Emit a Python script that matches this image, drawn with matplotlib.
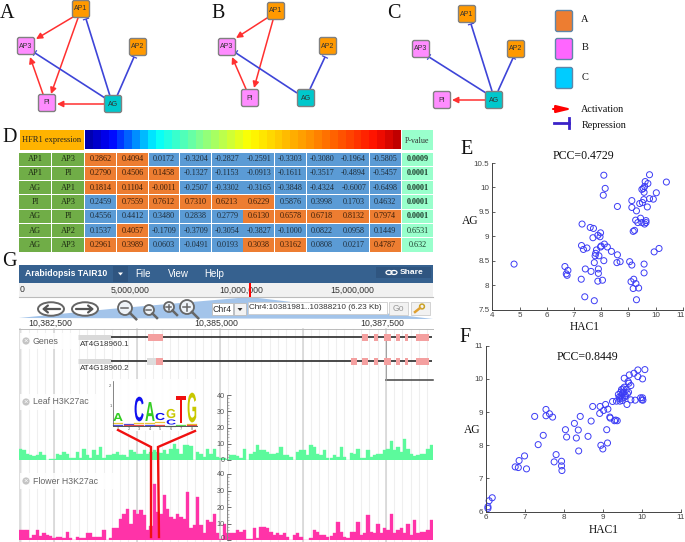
import matplotlib
matplotlib.use("Agg")
import numpy as np
import matplotlib.pyplot as plt
from matplotlib.patches import FancyBboxPatch, Rectangle, Ellipse, Circle, Polygon
from matplotlib.colors import LinearSegmentedColormap
from matplotlib.patheffects import AbstractPathEffect
from matplotlib.transforms import Affine2D, ScaledTranslation

# ---------- data ----------
row_a = ["AP1", "AP1", "AG", "PI", "AG", "AG", "AG"]
row_b = ["AP3", "PI", "AP1", "AP3", "PI", "AP2", "AP3"]
corr_text = [
    ["0.2862", "0.4094", "0.0172", "-0.3204", "-0.2827", "-0.2591", "-0.3303", "-0.3080", "-0.1964", "-0.5805"],
    ["0.2790", "0.4506", "0.1458", "-0.1327", "-0.1153", "-0.0913", "-0.1611", "-0.3517", "-0.4894", "-0.5457"],
    ["0.1814", "0.1104", "-0.0011", "-0.2507", "-0.3302", "-0.3165", "-0.3848", "-0.4324", "-0.6007", "-0.6498"],
    ["0.2459", "0.7559", "0.7612", "0.7310", "0.6213", "0.6229", "0.5876", "0.3998", "0.1703", "0.4632"],
    ["0.4556", "0.4412", "0.3480", "0.2838", "0.2779", "0.6130", "0.6578", "0.6718", "0.8132", "0.7974"],
    ["0.1537", "0.4057", "-0.1709", "-0.3709", "-0.3054", "-0.3827", "-0.1000", "0.0822", "0.0958", "0.1449"],
    ["0.2961", "0.3989", "0.0603", "-0.0491", "0.0193", "0.3038", "0.3162", "0.0808", "0.0217", "0.4787"],
]
corr_high = [
    [1, 1, 0, 0, 0, 0, 0, 0, 0, 0],
    [1, 1, 1, 0, 0, 0, 0, 0, 0, 0],
    [1, 1, 1, 0, 0, 0, 0, 0, 0, 0],
    [0, 1, 1, 1, 1, 1, 0, 0, 0, 0],
    [0, 0, 0, 0, 0, 1, 1, 1, 1, 1],
    [0, 1, 0, 0, 0, 0, 0, 0, 0, 0],
    [1, 1, 0, 0, 0, 1, 1, 0, 0, 1],
]
p_values = ["0.0009", "0.0001", "0.0001", "0.0001", "0.0001", "0.6531", "0.632"]

e_x = [4.8, 6.67, 6.72, 6.78, 6.75, 7.27, 7.42, 7.4, 7.63, 7.75, 7.9, 7.9, 7.88, 8.05, 7.3, 7.6, 7.72, 7.7, 7.88, 7.98, 7.96,
       7.28, 7.35, 7.48, 7.75, 7.78, 7.8, 7.83, 7.92, 7.98, 8.0, 8.12, 8.23, 8.38, 8.1, 8.58, 8.6, 8.7, 9.05, 9.13, 9.58,
       9.58, 9.95, 10.13, 9.1, 9.18, 9.2, 9.28, 9.38, 9.3, 8.1, 8.15, 8.08, 8.6, 9.13, 9.13, 9.3, 9.18, 9.23, 9.27, 9.35,
       9.45, 9.5, 9.6, 9.65, 9.65, 9.42, 9.52, 9.57, 9.7, 9.78, 9.92, 10.03, 9.5, 9.55, 9.58, 9.6, 9.62, 9.72, 9.78, 10.4]
e_y = [8.43, 8.38, 8.23, 8.3, 8.2, 8.12, 8.33, 7.76, 8.28, 7.68, 8.33, 8.24, 8.08, 8.1, 9.25, 9.18, 9.16, 8.97, 9.02, 9.07, 8.99,
       8.81, 8.73, 8.76, 8.46, 8.6, 8.65, 8.72, 8.6, 8.78, 8.8, 8.84, 8.78, 8.69, 8.5, 8.46, 8.62, 8.48, 8.48, 8.41, 8.43,
       8.25, 8.68, 8.75, 8.07, 7.93, 8.12, 8.03, 7.94, 7.7, 10.25, 9.98, 9.84, 9.61, 9.73, 9.59, 9.52, 9.1, 9.12, 9.33, 9.28,
       9.37, 9.28, 9.25, 9.32, 9.28, 9.67, 9.69, 9.75, 9.6, 9.77, 9.76, 9.89, 9.96, 9.98, 9.9, 10.02, 10.12, 10.08, 10.26, 10.11]

f_x = [6.05, 6.05, 6.08, 6.16, 6.75, 6.83, 6.85, 6.99, 7.04, 7.25, 7.34, 7.47, 7.54, 7.54, 7.63, 7.71, 7.75, 7.8, 7.94, 7.94, 7.95,
       8.04, 8.07, 8.27, 8.32, 8.37, 8.38, 8.42, 8.62, 8.7, 8.74, 8.92, 8.93, 8.95, 9.0, 9.02, 9.07, 9.1, 9.12, 9.13, 9.18, 9.19,
       9.25, 9.3, 9.33, 9.35, 9.37, 9.4, 9.43, 9.44, 9.46, 9.47, 9.48, 9.5, 9.5, 9.52, 9.54, 9.55, 9.55, 9.56, 9.58, 9.6, 9.62,
       9.63, 9.65, 9.66, 9.67, 9.68, 9.72, 9.72, 9.8, 9.83, 9.9, 9.9, 9.97, 10.0, 10.02, 10.02, 10.03, 10.08, 9.5, 9.42]
f_y = [6.1, 6.15, 6.33, 6.42, 7.35, 7.33, 7.54, 7.68, 7.29, 8.87, 8.02, 8.3, 9.08, 8.89, 8.95, 8.85, 7.5, 7.72, 7.52, 7.38, 7.24,
       8.47, 8.25, 8.66, 8.22, 8.46, 7.83, 8.87, 8.27, 8.73, 9.17, 8.96, 9.17, 8.0, 7.89, 9.05, 9.23, 8.47, 8.07, 9.09, 8.85, 8.82,
       9.32, 8.74, 8.76, 9.33, 8.74, 9.53, 9.4, 9.33, 9.6, 9.48, 9.68, 9.55, 9.42, 9.7, 9.6, 9.75, 10.02, 9.45, 9.5, 9.68, 9.23,
       9.55, 9.92, 9.6, 9.87, 10.12, 9.8, 9.37, 10.17, 9.36, 10.27, 10.07, 9.43, 9.37, 10.0, 9.43, 9.36, 10.28, 9.35, 9.45]

leaf_signal = [7, 6, 4, 3, 2.5, 3, 5, 3, 0, 0.7, 0.7, 4, 3, 5, 4, 1, 1, 5, 1, 7, 3, 1, 6, 3, 8, 1, 3, 3, 4, 5, 3, 3, 2, 6, 5, 4,
               4, 6, 4, 5, 6, 5, 4.5, 6, 4, 7, 10, 7, 4, 9.5, 9, 8.5, 0, 5, 4, 2, 7, 3.5, 7, 2, 1, 1, 0.5, 3, 3, 2.5, 1, 7, 0,
               3.5, 5, 9, 6, 6, 5, 3.5, 4, 4.5, 8, 3, 3, 2, 0, 5, 6, 6, 3, 9.5, 8, 4, 3, 6, 1, 1, 3, 2, 8, 2, 0, 4.5, 4, 6.5,
               1, 1, 6, 2, 3, 4, 4, 6, 7, 12, 6, 8, 5, 13, 7, 4, 2.5, 3, 4, 4, 7, 9]
flower_signal = [6, 6, 6, 1, 3, 6, 2.5, 4, 3, 2.5, 1, 2, 2, 1, 5, 1, 0, 2, 1, 1.5, 4, 4.5, 2, 2, 2, 6, 0, 1, 7, 7, 13, 16, 19, 10,
                 18, 16, 18, 15, 6, 8.5, 34, 17, 16, 27, 19, 14, 13, 15.5, 14, 13, 29, 7, 9, 26, 9, 4, 12, 11, 16, 4, 0.5, 10,
                 4, 4, 4, 6, 5, 6, 0.5, 0.5, 7, 1, 8, 8, 7, 5, 3, 4, 3, 4, 2, 0, 3, 4, 2, 0, 0, 1, 6, 5, 3, 3, 2, 2.5,
                 4, 11, 5, 2, 1, 5, 5, 11, 3, 4, 15, 5, 4, 10, 4, 7, 6, 16, 4, 6, 7, 4, 10, 3, 12, 4, 5, 5, 6, 12]

exons_1 = [(148, 163), (362, 368), (374, 378), (384, 391), (396, 400), (405, 408), (416, 429)]
exons_2 = [(156, 163), (351, 357), (362, 368), (374, 378), (384, 391), (396, 400), (405, 408), (416, 429)]

# ---------- helpers ----------
W, H = 685, 542
fig = plt.figure(figsize=(W / 100, H / 100), dpi=100, facecolor="white")
SERIF = ["Liberation Serif", "DejaVu Serif"]
SANS = ["Liberation Sans", "DejaVu Sans"]


def px_axes(x0, y0, x1, y1, **kw):
    return fig.add_axes([x0 / W, 1 - y1 / H, (x1 - x0) / W, (y1 - y0) / H], **kw)


bg = px_axes(0, 0, W, H, zorder=0)
fg = px_axes(0, 0, W, H, zorder=5)
for a in (bg, fg):
    a.set_xlim(0, W)
    a.set_ylim(H, 0)
    a.axis("off")
    a.patch.set_alpha(0)


def label(x, y, s, size=14.5, ax=bg, family=SERIF, color="#111111", ha="center", va="center", **kw):
    return ax.text(x, y, s, fontsize=size, family=family, color=color, ha=ha, va=va, **kw)


def rect(ax, x0, y0, x1, y1, fc, ec="none", lw=0, z=2, **kw):
    p = Rectangle((x0, y0), x1 - x0, y1 - y0, fc=fc, ec=ec, lw=lw, zorder=z, **kw)
    ax.add_patch(p)
    return p


def nudge(text, dx_px, dy_px):
    text.set_transform(text.get_transform() + ScaledTranslation(dx_px / 100, dy_px / 100, fig.dpi_scale_trans))


# ---------- networks ----------
ORANGE, PINK, TEAL = "#FF9900", "#FF8CFF", "#00C8CC"
RED, BLUE = "#FF3030", "#3E45D8"
node_color = {"AP1": ORANGE, "AP2": ORANGE, "AP3": PINK, "PI": PINK, "AG": TEAL}


def node(name, x, y):
    s = 8.5
    bg.add_patch(FancyBboxPatch((x - s, y - s), 2 * s, 2 * s, boxstyle="round,pad=0,rounding_size=2",
                                fc=node_color[name], ec="#808080", lw=1.0, zorder=4))
    label(x, y, name, size=5.0, family=SANS, color="#333333", zorder=5)


def activate(p, q):
    bg.annotate("", xy=q, xytext=p, zorder=3,
                arrowprops=dict(arrowstyle="-|>,head_width=0.18,head_length=0.36", color=RED, lw=1.1,
                                shrinkA=0, shrinkB=0))


def repress(p, q, color=BLUE):
    p, q = np.array(p, float), np.array(q, float)
    d = (q - p) / np.hypot(*(q - p))
    n = np.array([-d[1], d[0]]) * 2.6
    bg.plot([p[0], q[0]], [p[1], q[1]], color=color, lw=1.2, zorder=3, solid_capstyle="butt")
    bg.plot([q[0] - n[0], q[0] + n[0]], [q[1] - n[1], q[1] + n[1]], color=color, lw=0.9, zorder=3)


for name, x, y in [("AP1", 81, 9), ("AP3", 26, 46), ("AP2", 138, 47), ("PI", 47, 103), ("AG", 113, 104),
                   ("AP1", 276, 11), ("AP3", 227, 47), ("AP2", 328, 46), ("PI", 250, 98), ("AG", 306, 98),
                   ("AP1", 467, 14), ("AP3", 421, 49), ("AP2", 516, 49), ("PI", 442, 100), ("AG", 494, 100)]:
    node(name, x, y)
for p, q in [((73, 17), (36, 39)), ((78, 18), (51, 94)), ((43, 94), (30, 57)), ((104, 104), (57, 104)),
             ((267, 18), (236, 38)), ((273, 20), (254, 88)), ((246, 89), (232, 57)),
             ((486, 100), (452, 100))]:
    activate(p, q)
for p, q in [((110, 96), (86, 19)), ((105, 98), (35, 53)), ((117, 96), (134, 57)),
             ((297, 93), (236, 53)), ((310, 89), (325, 57)),
             ((492, 91), (471, 24)), ((486, 93), (429, 57)), ((498, 91), (513, 58))]:
    repress(p, q)

for s, x, y in [("A", 7, 14), ("B", 218, 13), ("C", 394, 13), ("D", 10, 137), ("E", 467, 149),
                ("F", 465, 337), ("G", 9, 261)]:
    label(x, y, s, zorder=6)

# legend
for s, c, y in [("A", "#ED7D31", 21), ("B", "#FF66FF", 49), ("C", "#00CCFF", 78)]:
    bg.add_patch(FancyBboxPatch((555.5, y - 10.5), 17, 21, boxstyle="round,pad=0,rounding_size=2",
                                fc=c, ec="#5F86A8", lw=1.0))
    label(585, y - 1, s, size=7.5)
bg.annotate("", xy=(572, 109), xytext=(553, 109),
            arrowprops=dict(arrowstyle="-|>,head_width=0.22,head_length=0.9", color="#FF0000", lw=1.5, shrinkA=0, shrinkB=0))
bg.plot([554, 569], [123, 123], color="#3A22C8", lw=2)
bg.plot([569, 569], [118, 128], color="#3A22C8", lw=2)
label(581, 109, "Activation", size=7.3, ha="left")
label(582, 125, "Repression", size=7.3, ha="left")

# ---------- table D ----------
rect(bg, 20, 130, 84, 149.5, "#FFB300")
label(52, 140, "HFR1 expression", size=6.0, color="#222222")
cmap = LinearSegmentedColormap.from_list("hm", [(0, "#0000B0"), (0.07, "#0000FF"), (0.22, "#00FFFF"), (0.36, "#80FF90"),
                                                (0.52, "#FFFF00"), (0.72, "#FF9000"), (0.93, "#FF1000"), (1, "#C00000")], N=40)
cb = px_axes(85, 130, 401, 149.5, zorder=1)
cb.imshow(np.linspace(0, 1, 40)[None, :], cmap=cmap, aspect="auto")
cb.axis("off")
rect(bg, 402, 130, 433, 149.5, "#99FFCC")
label(417.5, 141, "P-value", size=5.8, color="#333333")

GREEN, TORANGE, TBLUE, MINT = "#70AD47", "#ED7D31", "#5B9BD5", "#99FFCC"
row_top, row_h = 152.5, 14.3
for r in range(7):
    y0, y1 = row_top + r * row_h, row_top + (r + 1) * row_h - 1
    ym = (y0 + y1) / 2
    rect(bg, 19.5, y0, 50.8, y1, GREEN)
    rect(bg, 52, y0, 84, y1, GREEN)
    label(35, ym, row_a[r], size=6, color="#1c2a12")
    label(68, ym, row_b[r], size=6, color="#1c2a12")
    for c in range(10):
        x0 = 85.5 + c * 31.6
        rect(bg, x0, y0, x0 + 30.8, y1, TORANGE if corr_high[r][c] else TBLUE)
        label(x0 + 15.4, ym, corr_text[r][c], size=5.9, color="#1f2f3d" if not corr_high[r][c] else "#3a1d08")
    rect(bg, 402, y0, 433, y1, MINT)
    label(417.5, ym, p_values[r], size=5.9, color="#1c3a2a", fontweight="bold" if r < 5 else "normal")


# ---------- scatter panels ----------
def scatter_panel(rect_px, xs, ys, xlim, ylim, yticks, ylabels):
    ax = px_axes(*rect_px, zorder=2)
    ax.patch.set_alpha(0)
    ax.scatter(xs, ys, s=19, facecolors="none", edgecolors="#3C3CF5", linewidths=0.7, clip_on=False)
    ax.set_xlim(*xlim)
    ax.set_ylim(*ylim)
    ax.set_xticks(range(xlim[0], xlim[1] + 1))
    ax.set_yticks(yticks)
    ax.set_yticklabels(ylabels)
    for s in ("top", "right"):
        ax.spines[s].set_visible(False)
    for s in ("left", "bottom"):
        ax.spines[s].set_color("#444444")
        ax.spines[s].set_linewidth(0.7)
    ax.tick_params(direction="in", length=2.5, width=0.6, labelsize=5.8, colors="#444444", pad=2)
    for t in ax.get_xticklabels() + ax.get_yticklabels():
        t.set_family(SANS)
    return ax


ax_e = scatter_panel((492.3, 163, 682.7, 309.5), e_x, e_y, (4, 11), (7.5, 10.5),
                     [7.5, 8, 8.5, 9, 9.5, 10, 10.5], ["7.5", "8", "8.5", "9", "9.5", "10", "10.5"])
nudge(ax_e.get_xticklabels()[-1], -2.5, 0)
scatter_panel((486, 345.7, 680.7, 511.7), f_x, f_y, (6, 11), (6, 11),
              [6, 7, 8, 9, 10, 11], ["6", "7", "8", "9", "10", "11"])
label(583, 156, "PCC=0.4729", size=8.6)
label(585, 327, "HAC1", size=8.3)
label(470, 221, "AG", size=8.3)
label(587, 357, "PCC=0.8449", size=8.6)
label(604, 530, "HAC1", size=8.3)
label(472, 430, "AG", size=8.3)

# ---------- genome browser G ----------
rect(bg, 19, 265, 433, 283, "#36618F", z=2)
label(25, 274, "Arabidopsis TAIR10", size=6.2, family=SANS, color="white", ha="left", fontweight="bold", zorder=4)
rect(bg, 113, 266, 128, 282, "#2F5580", z=3)
bg.add_patch(Polygon([(118, 272.5), (123, 272.5), (120.5, 275.5)], fc="white", zorder=4))
for s, x in [("File", 135.5), ("View", 168), ("Help", 204.5)]:
    label(x, 274, s, size=7.0, family=SANS, color="white", ha="left", zorder=4)
rect(bg, 376, 267, 431, 278, "#2F5580", z=3)
label(412, 272.5, "Share", size=6.0, family=SANS, color="white", zorder=4, fontweight="bold")
for cx in (389, 394):
    bg.add_patch(Ellipse((cx, 272.5), 6, 4, fc="none", ec="white", lw=0.9, zorder=4))

rect(bg, 19, 283, 433, 297, "#F1F1F1", z=2)
bg.plot([19, 433], [296.5, 296.5], color="#BBBBBB", lw=0.8, zorder=3)
for s, x in [("0", 22), ("5,000,000", 130), ("10,000,000", 241), ("15,000,000", 352)]:
    label(x, 290, s, size=6.3, family=SANS, color="#333333", zorder=4)
rect(bg, 249, 283, 251, 297, "#FF0000", z=5)

# navigation band
bg.add_patch(Polygon([(19, 318), (110, 309), (250, 297), (433, 319)], fc="#A3C4EA", ec="none", zorder=2))
for cx, flip in [(51, -1), (85, 1)]:
    bg.add_patch(Ellipse((cx, 309), 26, 13.5, fc="white", ec="#666666", lw=1.4, zorder=3))
    bg.annotate("", xy=(cx + flip * 9, 309), xytext=(cx - flip * 9, 309), zorder=4,
                arrowprops=dict(arrowstyle="->,head_width=0.25,head_length=0.3", color="#555555", lw=1.6, shrinkA=0, shrinkB=0))
for cx, cy, r, plus in [(125, 308, 7, False), (149, 310, 5, False), (169, 307, 5, True), (187, 307, 7, True)]:
    bg.add_patch(Circle((cx, cy), r, fc="#EEF3F8", ec="#666666", lw=1.3, zorder=3))
    bg.plot([cx + r * 0.7, cx + r * 1.6], [cy + r * 0.7, cy + r * 1.6], color="#666666", lw=1.8, zorder=3)
    bg.plot([cx - r * 0.5, cx + r * 0.5], [cy, cy], color="#666666", lw=1.1, zorder=4)
    if plus:
        bg.plot([cx, cx], [cy - r * 0.5, cy + r * 0.5], color="#666666", lw=1.1, zorder=4)
rect(bg, 212, 303, 233, 315, "white", ec="#BBBBBB", lw=0.6, z=3)
label(222.5, 309, "Chr4", size=6.3, family=SANS, color="#333333", zorder=4)
rect(bg, 234, 303, 246, 315, "#F3F3F3", ec="#BBBBBB", lw=0.6, z=3)
bg.add_patch(Polygon([(237.5, 308), (242.5, 308), (240, 311)], fc="#333333", zorder=4))
rect(bg, 248, 302, 387, 314, "white", ec="#CCCCCC", lw=0.6, z=3)
label(249.5, 307.5, "Chr4:10381981..10388210 (6.23 Kb)", size=5.9, family=SANS, color="#333333", ha="left", zorder=4)
rect(bg, 389, 302, 408, 315, "#F2F2F2", ec="#CCCCCC", lw=0.6, z=3)
label(398.5, 308.5, "Go", size=6.2, family=SANS, color="#999999", zorder=4)
rect(bg, 411, 302, 430, 315, "#F2F2F2", ec="#CCCCCC", lw=0.6, z=3)
bg.add_patch(Circle((422, 306.5), 2.4, fc="none", ec="#C9A227", lw=1.1, zorder=4))
bg.plot([415, 420], [312, 308], color="#E0A030", lw=1.8, zorder=4)

# ruler
for s, x in [("10,382,500", 50), ("10,385,000", 216), ("10,387,500", 382)]:
    label(x, 323.5, s, size=6.3, family=SANS, color="#333333", zorder=4)
bg.plot([19, 433], [328.5, 328.5], color="#BBBBBB", lw=0.7, zorder=3)

# grid
for i in range(50):
    x = 20.6 + i * 8.3
    if x < 433:
        bg.plot([x, x], [329, 542], color="#EFEFEF", lw=0.8, zorder=1)
for x in (20, 54, 137, 220, 303, 386):
    bg.plot([x, x], [329, 542], color="#D4D4D4", lw=1.1, zorder=1)

# genes
for y, exons, name in [(337, exons_1, "AT4G18960.1"), (361, exons_2, "AT4G18960.2")]:
    bg.plot([78, 111], [y, y], color="#D9D9D9", lw=3.6, zorder=2, solid_capstyle="butt")
    bg.plot([111, 432], [y, y], color="#3A3A3A", lw=1.3, zorder=2, solid_capstyle="butt")
    for a, b in exons:
        rect(bg, a, y - 3.5, b, y + 3.5, "#F4A0A0", z=3)
    label(80, y + 8, name, size=5.8, family=SANS, color="#333333", ha="left", zorder=4)
rect(bg, 147, 357.5, 156, 364.5, "#DDDDDD", z=3)
bg.plot([386, 433], [380, 380], color="#444444", lw=1.1, zorder=2)
bg.plot([386, 386], [340, 380], color="#999999", lw=0.6, zorder=2)


def track_label(y, x1, s):
    rect(bg, 20, y - 8, x1, y + 8, "white", alpha=0.85, z=2)
    bg.add_patch(Circle((26, y), 3.6, fc="#C4C4C4", ec="none", zorder=4))
    bg.text(26, y, "×", fontsize=5.5, color="white", ha="center", va="center", zorder=5, family=SANS)
    label(33, y, s, size=6.3, family=SANS, color="#666666", ha="left", zorder=5)


track_label(341, 77, "Genes")
track_label(402, 103, "Leaf H3K27ac")
track_label(481, 113, "Flower H3K27ac")


def track(top, bottom, values, color):
    ax = px_axes(19, top, 433, bottom, zorder=3)
    ax.patch.set_alpha(0)
    ax.bar(np.arange(len(values)) + 0.5, values, width=1.0, color=color, edgecolor=color, linewidth=0.25)
    ax.set_xlim(0, len(values))
    ax.set_ylim(0, 40)
    for s in ("top", "right", "bottom"):
        ax.spines[s].set_visible(False)
    ax.spines["left"].set_position(("data", 62.2))
    ax.spines["left"].set_color("#888888")
    ax.spines["left"].set_linewidth(0.7)
    ax.set_xticks([])
    ax.set_yticks([0, 10, 20, 30, 40])
    ax.set_yticks(np.arange(0, 41, 2), minor=True)
    ax.tick_params(axis="y", which="major", direction="in", length=3, width=0.6, labelsize=5.2, colors="#555555", pad=1.5)
    ax.tick_params(axis="y", which="minor", direction="in", length=1.5, width=0.4, colors="#888888")
    for t in ax.get_yticklabels():
        t.set_family(SANS)
    return ax


track(395, 460, leaf_signal, "#5CFA9C")
ax_fl = track(474, 540, flower_signal, "#FF33A8")
nudge(ax_fl.get_yticklabels()[0], 0, 2.5)

# motif logo
rect(fg, 112, 379, 198, 431, "white", alpha=0.9, z=1)


class Stretch(AbstractPathEffect):
    def __init__(self, sx, sy, cx, cy):
        super().__init__()
        self.sx, self.sy, self.cx, self.cy = sx, sy, cx, cy

    def draw_path(self, renderer, gc, tpath, affine, rgbFace=None):
        t = affine + Affine2D().translate(-self.cx, -self.cy).scale(self.sx, self.sy).translate(self.cx, self.cy)
        renderer.draw_path(gc, tpath, t, rgbFace)


logo_width = {"A": 0.72, "C": 0.72, "G": 0.78, "T": 0.61}
logo_color = {"A": "#33CC22", "C": "#1010F0", "G": "#C8C800", "T": "#F01010"}


def logo_letter(ch, cx, base, h, w=10.0):
    em_px = min(w / logo_width[ch], h / 0.69)
    sx = w / (logo_width[ch] * em_px)
    sy = h / (0.69 * em_px)
    disp = fg.transData.transform((cx, base))
    t = fg.text(cx, base, ch, fontsize=em_px * 0.72, fontweight="bold", family=SANS, color=logo_color[ch],
                ha="center", va="baseline", zorder=3)
    t.set_path_effects([Stretch(sx, sy, disp[0], disp[1])])


for ch, cx, base, h in [("A", 118, 421, 8), ("C", 139, 421, 24), ("A", 150, 421, 19), ("C", 160, 420, 7),
                        ("G", 171, 418, 9), ("C", 171, 424.5, 5), ("T", 181, 423, 27), ("G", 192, 422, 29)]:
    logo_letter(ch, cx, base, h)

# small residues under the main letters of the logo
for x, y, c in [(118, 422.5, "#E8B800"), (118, 424.5, "#2020E0"), (129, 423.5, "#2020E0"), (129, 425, "#E02020"),
                (139, 423, "#E8B800"), (139, 425, "#E02020"), (150, 423, "#E8B800"), (150, 425, "#2020E0"),
                (160, 422, "#E8B800"), (160, 425, "#E02020"), (171, 425.5, "#33CC22"),
                (181, 424.5, "#33CC22"), (192, 424, "#E8B800"), (192, 425.3, "#E02020")]:
    fg.plot([x - 4.5, x + 4.5], [y, y], color=c, lw=0.9, alpha=0.8, zorder=3)

fg.plot([113.5, 113.5], [381, 426], color="#555555", lw=0.5, zorder=3)
fg.plot([113.5, 197], [426, 426], color="#555555", lw=0.7, zorder=3)
for s, y in [("2", 386), ("1", 406)]:
    label(111.5, y, s, size=3, family=SANS, color="#555555", ax=fg, ha="right", zorder=3)
for i, x in enumerate([118, 129, 139, 150, 160, 171, 181, 192]):
    label(x, 429, str(i + 1), size=2.8, family=SANS, color="#555555", ax=fg, zorder=3)

# red connector
fg.plot([118, 151, 151], [430, 447, 537], color="#F01010", lw=1.7, zorder=4, solid_joinstyle="miter")
fg.plot([195, 158, 159], [431, 447, 537], color="#F01010", lw=1.7, zorder=4, solid_joinstyle="miter")

fig.savefig("out.png", dpi=100)
